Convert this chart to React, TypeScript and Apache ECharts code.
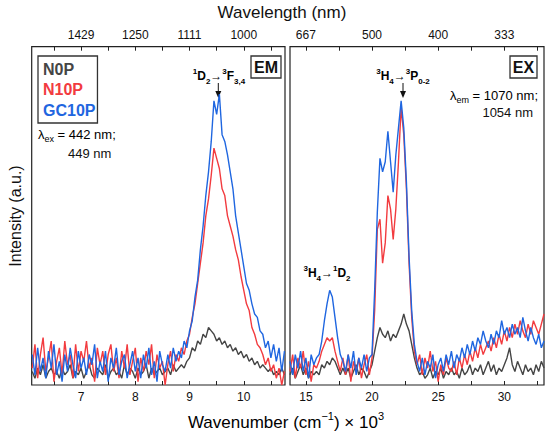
import React, { useEffect, useRef } from "react";
import * as echarts from "echarts";

// ---- sampling grids (cm^-1 x 10^3) ----
const EM_START = 6.1;
const EM_STEP = 0.05;
const EX_START = 13.8;
const EX_STEP = 0.2;

// ---- EM panel (emission) intensities, a.u. ----
const emN0P = [
  4, 2, 5, 3, 6, 2, 4, 5, 3, 4,
  2, 5, 3, 4, 6, 2, 4, 3, 5, 2,
  4, 6, 3, 2, 5, 4, 3, 6, 2, 4,
  5, 3, 4, 2, 6, 3, 5, 4, 2, 5,
  3, 4, 6, 2, 5, 3, 4, 5, 3, 4,
  5, 3, 6, 4, 5, 6, 5, 7, 8, 11,
  10, 13, 12, 15, 14, 17, 16, 15, 13, 14,
  12, 13, 11, 12, 10, 11, 9, 10, 8, 9,
  7, 8, 6, 7, 5, 6, 5, 4, 5, 3,
  4, 3, 5, 3,
];
const emN10P = [
  5, 12, 2, 9, 14, 4, 8, 13, 1, 7,
  11, 3, 13, 6, 9, 2, 12, 4, 10, 7,
  13, 5, 8, 1, 11, 6, 10, 3, 9, 12,
  4, 8, 2, 10, 5, 12, 3, 7, 11, 1,
  8, 4, 10, 6, 12, 2, 9, 5, 7, 0,
  6, 10, 4, 9, 7, 11, 9, 13, 15, 20,
  24, 30, 36, 42, 50, 55, 62, 70, 67, 64,
  58, 56, 50, 47, 44, 40, 37, 32, 28, 24,
  22, 17, 15, 12, 11, 9, 6, 8, 4, 6,
  2, 5, 0, 4,
];
const emGC10P = [
  9, 3, 11, 4, 8, 2, 10, 5, 12, 3,
  7, 1, 9, 4, 11, 6, 2, 10, 5, 8,
  3, 9, 6, 12, 2, 7, 4, 10, 1, 8,
  5, 11, 3, 7, 9, 2, 6, 10, 4, 8,
  2, 9, 5, 11, 3, 7, 1, 10, 6, 4,
  9, 5, 11, 7, 10, 8, 13, 11, 16, 19,
  26, 31, 40, 47, 56, 63, 72, 84, 80, 86,
  74, 72, 68, 63, 58, 50, 45, 40, 35, 30,
  28, 24, 21, 20, 16, 15, 11, 13, 8, 12,
  7, 11, 4, 10,
];

// ---- EX panel (excitation) intensities, a.u. ----
const exN0P = [
  3, 5, 2, 4, 6, 3, 5, 2, 4, 3,
  4, 3, 6, 5, 7, 6, 8, 7, 5, 3,
  5, 3, 5, 2, 4, 6, 3, 5, 4, 2,
  4, 6, 10, 14, 17, 15, 14, 16, 13, 15,
  14, 16, 18, 21, 18, 16, 12, 8, 5, 3,
  4, 2, 3, 5, 2, 4, 3, 5, 2, 4,
  3, 5, 3, 4, 2, 5, 3, 4, 6, 3,
  5, 4, 6, 3, 5, 7, 4, 6, 3, 5,
  4, 6, 8, 11, 6, 4, 7, 5, 3, 6,
  4, 5, 3, 6, 4, 7, 5,
];
const exN10P = [
  4, 9, 2, 8, 5, 10, 3, 7, 1, 6,
  5, 7, 10, 12, 14, 13, 14, 10, 7, 4,
  8, 3, 9, 1, 7, 4, 8, 2, 6, 9,
  3, 8, 22, 46, 49, 36, 42, 56, 52, 43,
  52, 66, 82, 74, 58, 36, 20, 10, 6, 9,
  3, 8, 5, 10, 4, 7, 1, 6, 3, 8,
  5, 4, 7, 3, 8, 5, 9, 6, 10, 7,
  11, 8, 12, 9, 11, 13, 10, 14, 11, 15,
  12, 16, 13, 17, 14, 18, 15, 19, 16, 14,
  18, 15, 19, 17, 15, 18, 21,
];
const exGC10P = [
  7, 3, 9, 5, 10, 4, 8, 2, 9, 6,
  8, 9, 13, 19, 24, 28, 26, 20, 14, 9,
  7, 4, 9, 5, 10, 3, 8, 5, 9, 4,
  8, 9, 28, 51, 67, 63, 66, 75, 66, 57,
  68, 76, 84, 76, 60, 38, 22, 12, 7, 4,
  8, 3, 7, 5, 9, 2, 6, 8, 4, 9,
  6, 10, 5, 9, 7, 11, 8, 12, 9, 13,
  10, 14, 12, 16, 13, 11, 15, 12, 16, 14,
  19, 15, 17, 14, 18, 15, 17, 14, 20, 16,
  13, 17, 14, 12, 15, 11, 13,
];

// ---- axes ----
const emLabelValues = [7, 8, 9, 10];
const emTickValues = [6.5, 7, 7.5, 8, 8.5, 9, 9.5, 10, 10.5];
const emTopLabels = ["1429", "1250", "1111", "1000"];
const exLabelValues = [15, 20, 25, 30];
const exTickValues = [15, 17.5, 20, 22.5, 25, 27.5, 30, 32.5];
const exTopLabels = ["667", "500", "400", "333"];

const seriesNames = ["N0P", "N10P", "GC10P"];
const seriesColors = ["#454545", "#f23b3f", "#1f66e0"];

const FONT = "'Liberation Sans', Arial, Helvetica, sans-serif";
const INK = "#111111";

function toPairs(start: number, step: number, ys: number[]) {
  return ys.map((y, i) => [+(start + step * i).toFixed(3), y]);
}

function xAxisDef(
  gridIndex: number,
  position: "top" | "bottom",
  min: number,
  max: number,
  labelValues: number[],
  tickValues: number[],
  labels?: string[]
) {
  return {
    type: "value",
    gridIndex,
    position,
    min,
    max,
    splitLine: { show: false },
    axisLine: { show: false },
    axisTick: {
      show: true,
      inside: true,
      length: 4,
      customValues: tickValues,
      lineStyle: { color: "#222", width: 1 },
    },
    axisLabel: {
      show: true,
      customValues: labelValues,
      margin: 6,
      fontSize: 12,
      fontFamily: FONT,
      color: INK,
      formatter: labels
        ? (v: number) => {
            const k = labelValues.indexOf(v);
            return k >= 0 ? labels[k] : "";
          }
        : (v: number) => String(v),
    },
  };
}

function yAxisDef(gridIndex: number) {
  return {
    type: "value",
    gridIndex,
    min: 0,
    max: 100,
    axisLine: { show: false },
    axisTick: { show: false },
    axisLabel: { show: false },
    splitLine: { show: false },
  };
}

const richMain = (size: number, bold: boolean, lh: number) => ({
  fontSize: size,
  fontWeight: bold ? "bold" : "normal",
  fontFamily: FONT,
  lineHeight: lh,
  color: INK,
});
const richSup = (size: number, bold: boolean) => ({
  fontSize: size,
  fontWeight: bold ? "bold" : "normal",
  fontFamily: FONT,
  lineHeight: size + 2,
  verticalAlign: "top",
  color: INK,
});
const richSub = (size: number, bold: boolean) => ({
  fontSize: size,
  fontWeight: bold ? "bold" : "normal",
  fontFamily: FONT,
  lineHeight: size + 2,
  verticalAlign: "bottom",
  color: INK,
});

export default function App() {
  const ref = useRef<HTMLDivElement>(null);

  useEffect(() => {
    if (!ref.current) return;
    const chart = echarts.init(ref.current, undefined, { renderer: "svg" });

    const emSets = [emN0P, emN10P, emGC10P];
    const exSets = [exN0P, exN10P, exGC10P];

    const series: any[] = [];
    emSets.forEach((ys, k) => {
      series.push({
        type: "line",
        name: seriesNames[k],
        xAxisIndex: 0,
        yAxisIndex: 0,
        data: toPairs(EM_START, EM_STEP, ys),
        showSymbol: false,
        color: seriesColors[k],
        lineStyle: { width: 1.4, color: seriesColors[k] },
        clip: true,
      });
    });
    exSets.forEach((ys, k) => {
      series.push({
        type: "line",
        name: seriesNames[k],
        xAxisIndex: 2,
        yAxisIndex: 1,
        data: toPairs(EX_START, EX_STEP, ys),
        showSymbol: false,
        color: seriesColors[k],
        lineStyle: { width: 1.4, color: seriesColors[k] },
        clip: true,
      });
    });

    const arrow = (x: number, y1: number, y2: number) => [
      {
        type: "line",
        shape: { x1: x, y1, x2: x, y2: y2 - 5 },
        style: { stroke: INK, lineWidth: 1 },
      },
      {
        type: "polygon",
        shape: { points: [[x - 3, y2 - 7], [x + 3, y2 - 7], [x, y2]] },
        style: { fill: INK },
      },
    ];

    chart.setOption({
      animation: false,
      backgroundColor: "#ffffff",
      textStyle: { fontFamily: FONT },
      grid: [
        {
          left: 31.7,
          top: 46.7,
          width: 253.3,
          height: 338.3,
          show: true,
          borderColor: "#222",
          borderWidth: 1.2,
          backgroundColor: "transparent",
        },
        {
          left: 290,
          top: 46.7,
          width: 254,
          height: 338.3,
          show: true,
          borderColor: "#222",
          borderWidth: 1.2,
          backgroundColor: "transparent",
        },
      ],
      xAxis: [
        xAxisDef(0, "bottom", 6.09, 10.76, emLabelValues, emTickValues),
        xAxisDef(0, "top", 6.09, 10.76, emLabelValues, emTickValues, emTopLabels),
        xAxisDef(1, "bottom", 13.8, 33.0, exLabelValues, exTickValues),
        xAxisDef(1, "top", 13.8, 33.0, exLabelValues, exTickValues, exTopLabels),
      ],
      yAxis: [yAxisDef(0), yAxisDef(1)],
      legend: {
        left: 38,
        top: 56,
        orient: "vertical",
        selectedMode: false,
        icon: "none",
        itemWidth: 0,
        itemHeight: 16,
        itemGap: 4.5,
        padding: [5, 2, 5, 0],
        borderColor: "#333",
        borderWidth: 1.3,
        data: seriesNames.map((n, k) => ({
          name: n,
          textStyle: {
            color: seriesColors[k],
            fontSize: 16,
            fontWeight: "bold",
            fontFamily: FONT,
          },
        })),
      },
      graphic: [
        // axis titles
        {
          type: "text",
          x: 282,
          y: 12,
          style: {
            text: "Wavelength (nm)",
            fontSize: 17,
            fontFamily: FONT,
            fill: INK,
            align: "center",
            verticalAlign: "middle",
          },
        },
        {
          type: "text",
          x: 286,
          y: 422,
          style: {
            text: "{a|Wavenumber (cm}{s|−1}{a|) × 10}{s|3}",
            align: "center",
            verticalAlign: "middle",
            rich: { a: richMain(17, false, 24), s: richSup(11, false) },
          },
        },
        {
          type: "text",
          x: 15,
          y: 216,
          rotation: Math.PI / 2,
          style: {
            text: "Intensity (a.u.)",
            fontSize: 16,
            fontFamily: FONT,
            fill: INK,
            align: "center",
            verticalAlign: "middle",
          },
        },
        // EM / EX boxes
        {
          type: "rect",
          shape: { x: 251, y: 56, width: 30, height: 22 },
          style: { fill: "#fff", stroke: "#333", lineWidth: 1.3 },
        },
        {
          type: "text",
          x: 266,
          y: 67.5,
          style: {
            text: "EM",
            fontSize: 16,
            fontWeight: "bold",
            fontFamily: FONT,
            fill: INK,
            align: "center",
            verticalAlign: "middle",
          },
        },
        {
          type: "rect",
          shape: { x: 510, y: 56, width: 27, height: 22 },
          style: { fill: "#fff", stroke: "#333", lineWidth: 1.3 },
        },
        {
          type: "text",
          x: 523.5,
          y: 67.5,
          style: {
            text: "EX",
            fontSize: 16,
            fontWeight: "bold",
            fontFamily: FONT,
            fill: INK,
            align: "center",
            verticalAlign: "middle",
          },
        },
        // excitation wavelength notes
        {
          type: "text",
          x: 38,
          y: 134,
          style: {
            text: "{a|λ}{b|ex}{a| = 442 nm;}",
            align: "left",
            verticalAlign: "middle",
            rich: { a: richMain(13, false, 18), b: richSub(9, false) },
          },
        },
        {
          type: "text",
          x: 68,
          y: 153,
          style: {
            text: "449 nm",
            fontSize: 13,
            fontFamily: FONT,
            fill: INK,
            align: "left",
            verticalAlign: "middle",
          },
        },
        {
          type: "text",
          x: 538,
          y: 95,
          style: {
            text: "{a|λ}{b|em}{a| = 1070 nm;}",
            align: "right",
            verticalAlign: "middle",
            rich: { a: richMain(13, false, 18), b: richSub(9, false) },
          },
        },
        {
          type: "text",
          x: 533,
          y: 112,
          style: {
            text: "1054 nm",
            fontSize: 13,
            fontFamily: FONT,
            fill: INK,
            align: "right",
            verticalAlign: "middle",
          },
        },
        // transition labels
        {
          type: "text",
          x: 219,
          y: 76,
          style: {
            text: "{p|1}{m|D}{b|2}{m|→}{p|3}{m|F}{b|3,4}",
            align: "center",
            verticalAlign: "middle",
            rich: { m: richMain(12, true, 18), p: richSup(8, true), b: richSub(8, true) },
          },
        },
        ...arrow(218.3, 83, 98),
        {
          type: "text",
          x: 403,
          y: 76,
          style: {
            text: "{p|3}{m|H}{b|4}{m|→}{p|3}{m|P}{b|0-2}",
            align: "center",
            verticalAlign: "middle",
            rich: { m: richMain(12, true, 18), p: richSup(8, true), b: richSub(8, true) },
          },
        },
        ...arrow(403, 83, 98),
        {
          type: "text",
          x: 327,
          y: 273,
          style: {
            text: "{p|3}{m|H}{b|4}{m|→}{p|1}{m|D}{b|2}",
            align: "center",
            verticalAlign: "middle",
            rich: { m: richMain(12, true, 18), p: richSup(8, true), b: richSub(8, true) },
          },
        },
      ],
      series,
    });

    return () => chart.dispose();
  }, []);

  return (
    <div
      ref={ref}
      style={{ position: "absolute", left: 0, top: 0, width: 550, height: 435, background: "#fff" }}
    />
  );
}
